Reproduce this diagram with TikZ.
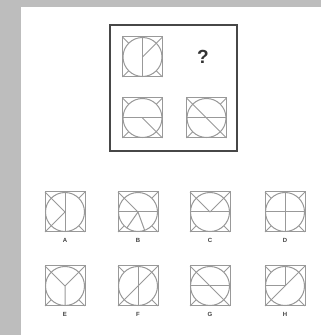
\documentclass[tikz,border=0pt]{standalone}
\usepackage{fontspec}
\setsansfont{Liberation Sans}
\usetikzlibrary{positioning}

\tikzset{
  fig/.style={draw=black!40, line width=1pt},
  pics/tile/.style={code={
    \draw[fig] (-20,-20) rectangle (20,20);
    \draw[fig] (0,0) circle (19.5);
    \foreach \a in {45,135,225,315} \draw[fig] (\a:19.5) -- (\a:28.28);
  }},
  optlabel/.style={font=\sffamily\bfseries\fontsize{6}{6}\selectfont, text=black!75},
}

\begin{document}
\begin{tikzpicture}[x=1pt, y=1pt]
\useasboundingbox (0,0) rectangle (321,335);
\fill[black!26] (0,0) rectangle (321,335);
\fill[white] (21,0) rectangle (321,328);

% question frame
\draw[black!72, line width=2pt] (110,184) rectangle (237,310);
\coordinate (tl) at (142.5,278);
\coordinate (bl) at (142.5,217);
\coordinate (br) at (206.5,217);
\node[font=\sffamily\bfseries\fontsize{19}{19}\selectfont, text=black!80] (qm) at (203,278) {?};

\pic at (tl) {tile};
\draw[fig] (tl) ++(90:19.5) -- ++(270:39);
\draw[fig] (tl) -- ++(45:19.5);
\pic at (bl) {tile};
\draw[fig] (bl) ++(180:19.5) -- ++(0:39);
\draw[fig] (bl) -- ++(-45:19.5);
\pic at (br) {tile};
\draw[fig] (br) ++(180:19.5) -- ++(0:39);
\draw[fig] (br) ++(135:19.5) -- ++(-45:39);

% options
\coordinate (tA) at (65,123);
\coordinate (tB) at (138,123);
\coordinate (tC) at (210,123);
\coordinate (tD) at (285,123);
\coordinate (tE) at (65,49);
\coordinate (tF) at (138,49);
\coordinate (tG) at (210,49);
\coordinate (tH) at (285,49);
\foreach \t in {A,B,C,D,E,F,G,H} {
  \pic at (t\t) {tile};
  \node[optlabel, below=23pt of t\t] (l\t) {\t};
}

\draw[fig] (tA) ++(90:19.5) -- ++(270:39);
\draw[fig] (tA) -- ++(135:19.5) (tA) -- ++(225:19.5);
\draw[fig] (tB) ++(180:19.5) -- ++(0:39);
\draw[fig] (tB) -- ++(135:19.5) (tB) -- ++(235:19.5) (tB) -- ++(290:19.5);
\draw[fig] (tC) ++(180:19.5) -- ++(0:39);
\draw[fig] (tC) -- ++(45:19.5) (tC) -- ++(135:19.5);
\draw[fig] (tD) ++(180:19.5) -- ++(0:39);
\draw[fig] (tD) ++(90:19.5) -- ++(270:39);
\draw[fig] (tE) -- ++(45:19.5) (tE) -- ++(135:19.5) (tE) -- ++(270:19.5);
\draw[fig] (tF) ++(90:19.5) -- ++(270:39);
\draw[fig] (tF) ++(45:19.5) -- ++(225:39);
\draw[fig] (tG) ++(180:19.5) -- ++(0:39);
\draw[fig] (tG) ++(135:19.5) -- ++(-45:39);
\draw[fig] (tH) ++(45:19.5) -- ++(225:39);
\draw[fig] (tH) -- ++(180:19.5) (tH) -- ++(90:19.5);
\end{tikzpicture}
\end{document}
